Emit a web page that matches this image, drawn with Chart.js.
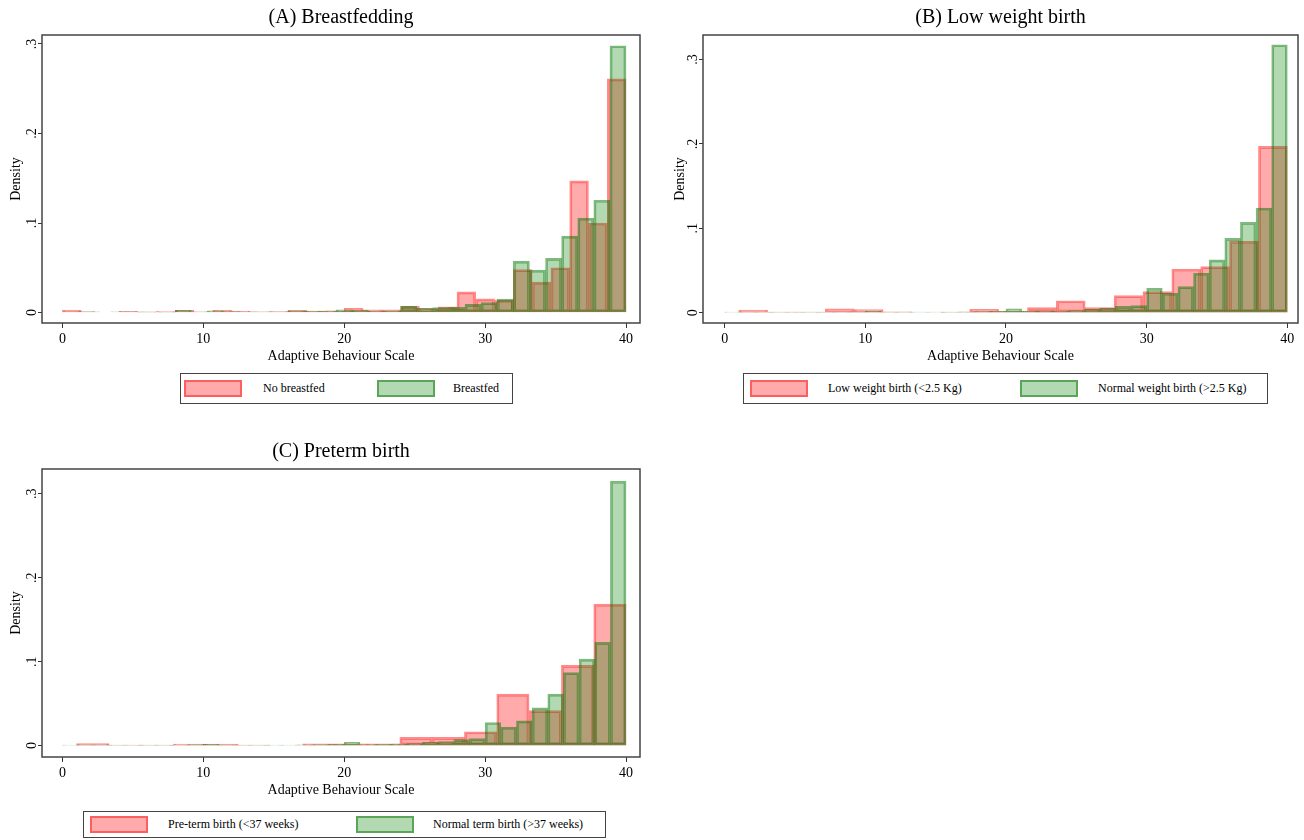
<!DOCTYPE html>
<html>
<head>
<meta charset="utf-8">
<title>Adaptive Behaviour Scale histograms</title>
<script src="https://cdn.jsdelivr.net/npm/chart.js@4.4.1/dist/chart.umd.min.js"></script>
<style>
  body { margin: 0; background: #fff; width: 1304px; height: 840px; position: relative; overflow: hidden;
         font-family: "Liberation Serif", "Times New Roman", serif; }
  canvas { position: absolute; }
  .legend { position: absolute; border: 1px solid #444; box-sizing: border-box; background: #fff; }
  .key { position: absolute; width: 58px; height: 17px; box-sizing: border-box; border: 2px solid; }
  .lab { position: absolute; font-size: 12px; line-height: 17px; white-space: nowrap; color: #000; }
</style>
</head>
<body>
<canvas id="plotA" width="650" height="366" style="left:0;top:0"></canvas>
<canvas id="plotB" width="654" height="366" style="left:650px;top:0"></canvas>
<canvas id="plotC" width="650" height="366" style="left:0;top:434px"></canvas>
<div id="legA" class="legend" style="left:180px;top:373px;width:333px;height:31px"></div>
<div id="legB" class="legend" style="left:743px;top:373px;width:525px;height:31px"></div>
<div id="legC" class="legend" style="left:83px;top:811px;width:523px;height:27px"></div>

<script>
// ticks shared by the three panels
const xTickValues = [0, 10, 20, 30, 40];
const yTickValues = [0, 0.1, 0.2, 0.3];
const yTickLabels = ["0", ".1", ".2", ".3"];

// (A) Breastfedding : 30 bins from 0 (no breastfed), 35 bins from 0 (breastfed)
const noBreastStart = 0, noBreastWidth = 40 / 30;
const noBreastfed = [0.0028, 0.0007, 0, 0.0012, 0.0005, 0.001, 0.0025, 0.0008, 0.0025, 0.0015,
  0.0008, 0.001, 0.0025, 0.0015, 0.002, 0.0047, 0.003, 0.003, 0.007, 0.0045,
  0.0065, 0.023, 0.0152, 0.0138, 0.048, 0.034, 0.050, 0.147, 0.100, 0.261];
const breastStart = 0, breastWidth = 40 / 35;
const breastfed = [0.0008, 0.001, 0, 0.0007, 0.0007, 0.0007, 0.0005, 0.0025, 0.0008, 0.002,
  0.001, 0.0008, 0.0008, 0.0008, 0.0018, 0.0015, 0.0015, 0.003, 0.0025, 0.0015,
  0.0018, 0.0072, 0.0047, 0.0055, 0.0058, 0.0091, 0.011, 0.015, 0.0574, 0.0474,
  0.0604, 0.0853, 0.1054, 0.1254, 0.298];

// (B) Low weight birth : 19 bins from 1 (low), 36 bins from 0 (normal)
const lowWeightStart = 1, lowWeightWidth = 39 / 19;
const lowWeight = [0.003, 0.0007, 0.0007, 0.0047, 0.0036, 0.001, 0, 0.0008, 0.004, 0.0015,
  0.006, 0.0142, 0.006, 0.0202, 0.025, 0.0518, 0.0546, 0.0847, 0.197];
const normalWeightStart = 0, normalWeightWidth = 40 / 36;
const normalWeight = [0.0008, 0.0008, 0.0006, 0.0006, 0.0005, 0.0005, 0.0005, 0.0008, 0.001, 0.0015,
  0.0006, 0.0006, 0.0005, 0.0005, 0.0008, 0.001, 0.0012, 0.0015, 0.0045, 0.0015,
  0.0018, 0.0018, 0.0024, 0.0039, 0.0055, 0.0075, 0.0083, 0.029, 0.023, 0.0309,
  0.0467, 0.0625, 0.088, 0.107, 0.124, 0.3175];

// (C) Preterm birth : 17 bins from 1 (pre-term), 36 bins from 0 (normal term)
const pretermStart = 1, pretermWidth = 39 / 17;
const preterm = [0.0024, 0.0005, 0.0005, 0.0018, 0.0018, 0.0005, 0, 0.002, 0.002, 0.002,
  0.0097, 0.0097, 0.0165, 0.0614, 0.0417, 0.0956, 0.1685];
const normalTermStart = 0, normalTermWidth = 40 / 36;
const normalTerm = [0.0006, 0.0008, 0.0008, 0.0006, 0.0004, 0.0004, 0.0004, 0.0006, 0.0012, 0.0015,
  0.0008, 0.0006, 0.0006, 0.0006, 0.0006, 0.0008, 0.0012, 0.0015, 0.0039, 0.0012,
  0.0015, 0.0018, 0.0024, 0.0039, 0.0047, 0.0071, 0.0083, 0.0275, 0.022, 0.0295,
  0.045, 0.0614, 0.087, 0.103, 0.123, 0.315];

const serif = "'Liberation Serif', 'Times New Roman', serif";
const redFill = "rgba(255, 0, 0, 0.33)";
const redLine = "rgba(255, 0, 0, 0.45)";
const greenFill = "rgba(0, 128, 0, 0.3)";
const greenLine = "rgba(0, 115, 0, 0.5)";

// bin index -> bar centred in its bin
let bins = (start, width, values) => values.map((v, i) => ({ x: start + width * (i + 0.5), y: v }));

// box around the plot region
const framePlugin = {
  id: "frame",
  afterDraw(chart) {
    const { ctx, chartArea: a } = chart;
    ctx.save();
    ctx.strokeStyle = "#444";
    ctx.lineWidth = 1.5;
    ctx.strokeRect(a.left, a.top, a.right - a.left, a.bottom - a.top);
    ctx.restore();
  }
};

let makePanel = (id, p) => {
  let xTicks = (s) => { s.ticks = xTickValues.map((v) => ({ value: v })); };
  // each group on its own (hidden) x axis so the bar width follows its own bin width
  let barStyle = { borderWidth: 2, borderSkipped: false, barPercentage: 1, categoryPercentage: 1, grouped: false };

  new Chart(document.getElementById(id), {
    type: "bar",
    data: {
      datasets: [
        Object.assign({ label: p.redLabel, data: bins(p.redStart, p.redWidth, p.redValues), xAxisID: "x",
          order: 1, backgroundColor: redFill, borderColor: redLine }, barStyle),
        Object.assign({ label: p.greenLabel, data: bins(p.greenStart, p.greenWidth, p.greenValues), xAxisID: "x2",
          order: 0, backgroundColor: greenFill, borderColor: greenLine }, barStyle)
      ]
    },
    options: {
      responsive: false,
      animation: false,
      devicePixelRatio: 1,
      layout: { padding: { left: 0, right: p.padRight, top: 0, bottom: 0 } },
      plugins: {
        legend: { display: false },
        tooltip: { enabled: false },
        title: { display: true, text: p.title, fullSize: false, color: "#000",
          font: { family: serif, size: 20, weight: "normal" }, padding: { top: 6, bottom: 5 } }
      },
      scales: {
        x: {
          type: "linear", min: p.xMin, max: p.xMax, offset: false,
          afterBuildTicks: xTicks,
          afterFit: (s) => { s.height = 43; },
          grid: { drawOnChartArea: false, tickLength: 5, color: "#333", offset: false },
          border: { display: false },
          ticks: { padding: 3, maxRotation: 0, autoSkip: false, color: "#000", font: { family: serif, size: 14 } },
          title: { display: true, text: "Adaptive Behaviour Scale", color: "#000",
            font: { family: serif, size: 14 }, padding: { top: 0, bottom: 1 } }
        },
        x2: { type: "linear", display: false, min: p.xMin, max: p.xMax, offset: false, afterBuildTicks: xTicks },
        y: {
          min: p.yMin, max: p.yMax,
          afterBuildTicks: (s) => { s.ticks = yTickValues.map((v) => ({ value: v })); },
          afterFit: (s) => { s.width = p.yWidth; },
          grid: { drawOnChartArea: false, tickLength: 4, color: "#333" },
          border: { display: false },
          ticks: { minRotation: 90, maxRotation: 90, crossAlign: "center", padding: 0, color: "#000",
            font: { family: serif, size: 14 }, callback: (v, i) => yTickLabels[i] },
          title: { display: true, text: "Density", color: "#000",
            font: { family: serif, size: 14 }, padding: { top: p.yTitlePad, bottom: 0 } }
        }
      }
    },
    plugins: [framePlugin]
  });

  // legend box below the plot
  let leg = document.getElementById(p.legendId);
  let keys = [
    { text: p.redLabel, fill: redFill, line: redLine, at: p.legendAt[0] },
    { text: p.greenLabel, fill: greenFill, line: greenLine, at: p.legendAt[1] }
  ];
  keys.forEach((k) => {
    let sw = document.createElement("div");
    sw.className = "key";
    sw.style.left = k.at[0] + "px";
    sw.style.top = p.legendTop + "px";
    sw.style.background = k.fill;
    sw.style.borderColor = k.line;
    leg.appendChild(sw);
    let lab = document.createElement("div");
    lab.className = "lab";
    lab.style.left = k.at[1] + "px";
    lab.style.top = p.legendTop + "px";
    lab.textContent = k.text;
    leg.appendChild(lab);
  });
};

makePanel("plotA", {
  title: "(A) Breastfedding",
  redLabel: "No breastfed", redStart: noBreastStart, redWidth: noBreastWidth, redValues: noBreastfed,
  greenLabel: "Breastfed", greenStart: breastStart, greenWidth: breastWidth, greenValues: breastfed,
  xMin: -1.45, xMax: 40.99, yMin: -0.0117, yMax: 0.310,
  yWidth: 42, yTitlePad: 8, padRight: 10,
  legendId: "legA", legendTop: 6, legendAt: [[3, 82], [196, 272]]
});

makePanel("plotB", {
  title: "(B) Low weight birth",
  redLabel: "Low weight birth (<2.5 Kg)", redStart: lowWeightStart, redWidth: lowWeightWidth, redValues: lowWeight,
  greenLabel: "Normal weight birth (>2.5 Kg)", greenStart: normalWeightStart, greenWidth: normalWeightWidth, greenValues: normalWeight,
  xMin: -1.54, xMax: 40.76, yMin: -0.0122, yMax: 0.329,
  yWidth: 53, yTitlePad: 22, padRight: 6,
  legendId: "legB", legendTop: 6, legendAt: [[6, 84], [276, 354]]
});

makePanel("plotC", {
  title: "(C) Preterm birth",
  redLabel: "Pre-term birth (<37 weeks)", redStart: pretermStart, redWidth: pretermWidth, redValues: preterm,
  greenLabel: "Normal term birth (>37 weeks)", greenStart: normalTermStart, greenWidth: normalTermWidth, greenValues: normalTerm,
  xMin: -1.45, xMax: 40.99, yMin: -0.0136, yMax: 0.3296,
  yWidth: 42, yTitlePad: 8, padRight: 10,
  legendId: "legC", legendTop: 4, legendAt: [[6, 84], [272, 349]]
});
</script>
</body>
</html>
